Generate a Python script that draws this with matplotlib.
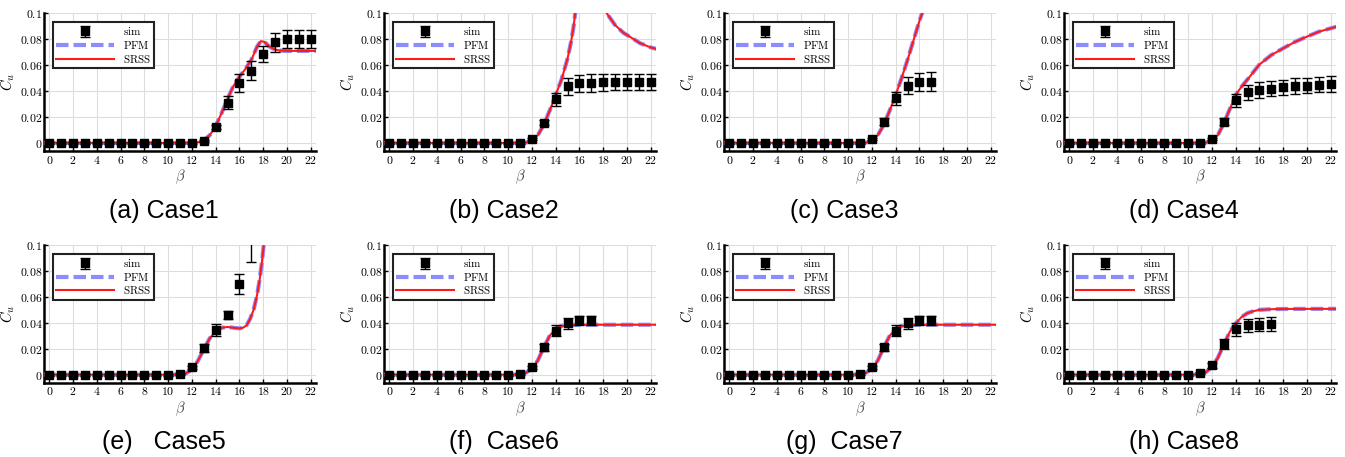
import numpy as np
import matplotlib
matplotlib.use('Agg')
import matplotlib.pyplot as plt

plt.rcParams['mathtext.fontset'] = 'cm'
plt.rcParams['font.family'] = 'DejaVu Serif'

# sim points (beta, value, error) and fitted curve per case
beta_all = list(range(23))

sim1_b = beta_all
sim1_v = [0]*13 + [0.0015, 0.0124, 0.031, 0.046, 0.0557, 0.0686, 0.0775, 0.080, 0.080, 0.080]
sim1_e = [0.0008]*13 + [0.001, 0.0015, 0.005, 0.007, 0.0073, 0.0065, 0.007, 0.007, 0.007, 0.007]
cur1_b = [-0.5, 12, 12.5, 13, 13.5, 14, 14.5, 15, 15.5, 16, 16.5, 17, 17.5, 17.8, 18.1, 18.5, 19, 19.5, 20, 22.5]
cur1_v = [0, 0, 0.0005, 0.002, 0.006, 0.013, 0.023, 0.034, 0.044, 0.051, 0.057, 0.064, 0.0745, 0.0785, 0.078, 0.0745, 0.072, 0.0712, 0.071, 0.071]

sim2_b = beta_all
sim2_v = [0]*11 + [0.0003, 0.003, 0.0157, 0.0338, 0.0438, 0.046, 0.0464, 0.0467, 0.047, 0.047, 0.047, 0.047]
sim2_e = [0.0008]*11 + [0.0008, 0.001, 0.002, 0.005, 0.0065, 0.0068, 0.0068, 0.0065, 0.0065, 0.0065, 0.0065, 0.0065]
cur2_b = [-0.5, 11, 11.5, 12, 12.5, 13, 13.5, 14, 14.5, 15, 15.3, 15.5, 15.65, 15.8, np.nan, 18.0, 18.3, 19, 19.7, 20.5, 21.1, 22, 22.5]
cur2_v = [0, 0, 0.0003, 0.0015, 0.006, 0.014, 0.025, 0.037, 0.049, 0.065, 0.078, 0.089, 0.1, 0.112, np.nan, 0.112, 0.1, 0.091, 0.085, 0.0805, 0.077, 0.0737, 0.0725]

sim3_b = list(range(18))
sim3_v = [0]*11 + [0.0003, 0.003, 0.0165, 0.0345, 0.0443, 0.0469, 0.0474]
sim3_e = [0.0008]*11 + [0.0008, 0.001, 0.0025, 0.005, 0.0065, 0.007, 0.007]
cur3_b = [-0.5, 11, 11.5, 12, 12.5, 13, 13.5, 14, 14.5, 15, 15.5, 16, 16.3, 16.5]
cur3_v = [0, 0, 0.0003, 0.0015, 0.006, 0.014, 0.025, 0.037, 0.05, 0.064, 0.079, 0.094, 0.102, 0.108]

sim4_b = beta_all
sim4_v = [0]*11 + [0.0003, 0.003, 0.0165, 0.033, 0.039, 0.0407, 0.042, 0.0428, 0.0438, 0.0443, 0.045, 0.0454]
sim4_e = [0.0008]*11 + [0.0008, 0.001, 0.0025, 0.005, 0.0055, 0.006, 0.006, 0.006, 0.006, 0.006, 0.006, 0.006]
cur4_b = [-0.5, 11, 11.5, 12, 12.5, 13, 13.5, 14, 14.5, 15, 16, 17, 18, 19, 20, 21, 22, 22.5]
cur4_v = [0, 0, 0.0003, 0.002, 0.006, 0.015, 0.026, 0.037, 0.0435, 0.049, 0.0605, 0.0678, 0.073, 0.078, 0.082, 0.0858, 0.0884, 0.0897]

sim5_b = list(range(18))
sim5_v = [0]*11 + [0.0005, 0.0056, 0.0205, 0.0346, 0.0459, 0.070, 0.106]
sim5_e = [0.0008]*11 + [0.0008, 0.0012, 0.003, 0.0045, 0.003, 0.008, 0.019]
cur5_b = [-0.5, 10.5, 11, 11.5, 12, 12.5, 13, 13.5, 14, 14.5, 15, 15.5, 16, 16.3, 16.6, 16.9, 17.2, 17.5, 17.7, 17.9, 18.05, 18.2]
cur5_v = [0, 0, 0.0003, 0.001, 0.004, 0.0105, 0.0195, 0.028, 0.0335, 0.0362, 0.0368, 0.0362, 0.0357, 0.0362, 0.038, 0.043, 0.05, 0.062, 0.073, 0.087, 0.1, 0.112]

sim6_b = list(range(18))
sim6_v = [0]*11 + [0.0005, 0.0056, 0.021, 0.034, 0.0395, 0.0418, 0.0418]
sim6_e = [0.0008]*11 + [0.0008, 0.0012, 0.003, 0.004, 0.004, 0.0035, 0.0035]
cur6_b = [-0.5, 10.5, 11, 11.5, 12, 12.5, 13, 13.5, 14, 14.5, 15, 16, 22.5]
cur6_v = [0, 0, 0.0005, 0.0015, 0.0045, 0.011, 0.021, 0.03, 0.0355, 0.0375, 0.038, 0.0385, 0.0385]

sim7_b = list(range(18))
sim7_v = [0]*11 + [0.0005, 0.0056, 0.021, 0.034, 0.0395, 0.0418, 0.0418]
sim7_e = [0.0008]*11 + [0.0008, 0.0012, 0.003, 0.004, 0.004, 0.0035, 0.0035]
cur7_b = [-0.5, 10.5, 11, 11.5, 12, 12.5, 13, 13.5, 14, 14.5, 15, 16, 22.5]
cur7_v = [0, 0, 0.0005, 0.0015, 0.0045, 0.011, 0.021, 0.03, 0.0355, 0.0375, 0.038, 0.0385, 0.0385]

sim8_b = list(range(18))
sim8_v = [0]*11 + [0.001, 0.0072, 0.0236, 0.035, 0.038, 0.0385, 0.039]
sim8_e = [0.0008]*11 + [0.0008, 0.002, 0.004, 0.005, 0.005, 0.005, 0.0055]
cur8_b = [-0.5, 10.5, 11, 11.5, 12, 12.5, 13, 13.5, 14, 14.5, 15, 15.5, 16, 17, 18, 22.5]
cur8_v = [0, 0, 0.0005, 0.002, 0.006, 0.013, 0.023, 0.033, 0.0395, 0.0445, 0.0475, 0.049, 0.050, 0.0505, 0.0507, 0.0508]

captions = ['(a) Case1', '(b) Case2', '(c) Case3', '(d) Case4',
            '(e)   Case5', '(f)  Case6', '(g)  Case7', '(h) Case8']

cases = [
    (sim1_b, sim1_v, sim1_e, cur1_b, cur1_v),
    (sim2_b, sim2_v, sim2_e, cur2_b, cur2_v),
    (sim3_b, sim3_v, sim3_e, cur3_b, cur3_v),
    (sim4_b, sim4_v, sim4_e, cur4_b, cur4_v),
    (sim5_b, sim5_v, sim5_e, cur5_b, cur5_v),
    (sim6_b, sim6_v, sim6_e, cur6_b, cur6_v),
    (sim7_b, sim7_v, sim7_e, cur7_b, cur7_v),
    (sim8_b, sim8_v, sim8_e, cur8_b, cur8_v),
]

W, H = 1345, 457
fig = plt.figure(figsize=(W/100, H/100), dpi=100)

lefts = [44, 384, 724, 1064]
tops = [13.3, 245]
ax_w, ax_h = 272, 137.5

for i, (sb, sv, se, cb, cv) in enumerate(cases):
    r, c = divmod(i, 4)
    x0 = lefts[c]
    y0 = tops[r]
    ax = fig.add_axes([x0/W, 1 - (y0+ax_h)/H, ax_w/W, ax_h/H])

    ax.plot(cb, cv, color='#8c8cff', lw=3, dashes=(3, 1.2), label='PFM', zorder=3)
    ax.plot(cb, cv, color='#ff1a1a', lw=1.5, label='SRSS', zorder=4)
    ax.errorbar(sb, sv, yerr=se, fmt='s', color='black', ms=6, capsize=3.5,
                elinewidth=1, capthick=1, label='sim', zorder=5)

    ax.set_xlim(-0.45, 22.45)
    ax.set_ylim(-0.006, 0.1)
    ax.set_xticks(range(0, 23, 2))
    ax.set_xticklabels(['$%d$' % v for v in range(0, 23, 2)])
    yt = [0, 0.02, 0.04, 0.06, 0.08, 0.1]
    ax.set_yticks(yt)
    ax.set_yticklabels(['$0$', '$0.02$', '$0.04$', '$0.06$', '$0.08$', '$0.1$'])
    ax.tick_params(direction='in', length=3, width=1, labelsize=8.5, pad=2)
    ax.tick_params(axis='y', pad=1)
    ax.grid(True, color='#dddddd', lw=0.8)
    ax.set_axisbelow(True)
    for s in ['top', 'right']:
        ax.spines[s].set_visible(False)
    for s in ['left', 'bottom']:
        ax.spines[s].set_linewidth(1.8)

    ax.set_xlabel(r'$\beta$', fontsize=10.5, labelpad=1, color='#444444')
    ax.set_ylabel(r'$C_u$', fontsize=10.5, labelpad=2)

    h, l = ax.get_legend_handles_labels()
    order = [2, 0, 1]
    leg = ax.legend([h[k] for k in order], ['$\\mathrm{sim}$', '$\\mathrm{PFM}$', '$\\mathrm{SRSS}$'],
                    loc='upper left', bbox_to_anchor=(0.033, 0.937), fontsize=8,
                    handlelength=5.2, borderpad=0.3, labelspacing=0.15,
                    handletextpad=0.8, fancybox=False, framealpha=1, borderaxespad=0)
    leg.get_frame().set_edgecolor('#222222')
    leg.get_frame().set_linewidth(1.5)

    fig.text((x0 + 120)/W, 1 - (211 if r == 0 else 442)/H, captions[i],
             fontsize=18, family='Liberation Sans', ha='center', va='center')

fig.savefig('out.png', dpi=100)
